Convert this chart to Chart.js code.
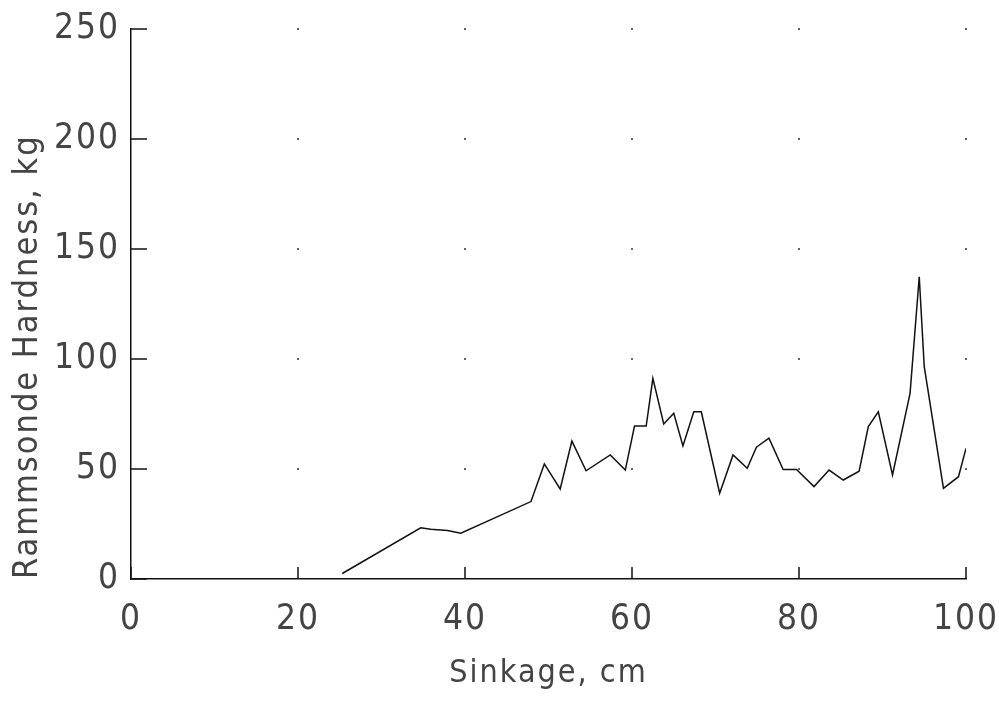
<!DOCTYPE html>
<html>
<head>
<meta charset="utf-8">
<script src="https://cdn.jsdelivr.net/npm/chart.js@4/dist/chart.umd.min.js"></script>
<style>
  html, body { margin: 0; padding: 0; background: #fff; }
  #wrap { width: 999px; height: 709px; }
</style>
</head>
<body>
<div id="wrap"><canvas id="chart-canvas" width="999" height="709"></canvas></div>
<script>
// Rammsonde probe profile: hardness against sinkage depth
const sinkage = [25.3, 34.7, 35.9, 37.9, 39.5, 47.9, 49.5, 51.4, 52.8, 54.5, 57.4, 59.2,
  60.3, 61.7, 62.5, 63.8, 65.0, 66.1, 67.4, 68.3, 70.5, 72.1, 73.8, 74.9, 76.4, 78.1,
  79.7, 81.8, 83.6, 85.3, 87.2, 88.3, 89.5, 91.2, 93.3, 94.4, 95.0, 97.3, 99.1, 100];
const hardness = [2.5, 23.3, 22.6, 22.0, 20.8, 35.2, 52.3, 40.9, 62.7, 49.2, 56.4, 49.5,
  69.5, 69.5, 91.2, 70.5, 75.3, 60.5, 76.0, 76.0, 39.0, 56.4, 50.3, 59.9, 64.0, 49.8,
  49.8, 42.0, 49.5, 45.0, 49.0, 69.3, 76.0, 47.3, 84.4, 137.4, 96.5, 41.2, 46.5, 59.4];

const xTicks = [0, 20, 40, 60, 80, 100];
const yTicks = [0, 50, 100, 150, 200, 250];

const FONT = "'DejaVu Sans Condensed', 'DejaVu Sans', sans-serif";
const INK = '#444';

// spaced-out lettering, set before measuring and before painting
const spacing = {
  id: 'spacing',
  beforeUpdate(chart) { chart.ctx.letterSpacing = '2px'; },
  beforeDraw(chart) { chart.ctx.letterSpacing = '2px'; }
};

// short inward tick marks and dotted grid intersections
const innerTicks = {
  id: 'innerTicks',
  afterDraw(chart) {
    const { ctx, scales: { x, y } } = chart;
    ctx.save();
    ctx.strokeStyle = '#111';
    ctx.lineWidth = 1.5;
    xTicks.forEach(v => {
      const px = x.getPixelForValue(v);
      ctx.beginPath();
      ctx.moveTo(px, y.bottom);
      ctx.lineTo(px, y.bottom - 12);
      ctx.stroke();
    });
    yTicks.forEach(v => {
      const py = y.getPixelForValue(v);
      ctx.beginPath();
      ctx.moveTo(x.left, py);
      ctx.lineTo(x.left + 16, py);
      ctx.stroke();
    });
    ctx.fillStyle = '#666';
    xTicks.slice(1).forEach(v => {
      yTicks.slice(1).forEach(w => {
        ctx.fillRect(x.getPixelForValue(v) - 1, y.getPixelForValue(w) - 1, 2, 2);
      });
    });
    ctx.restore();
  }
};

new Chart(document.getElementById('chart-canvas'), {
  type: 'line',
  plugins: [spacing, innerTicks],
  data: {
    datasets: [{
      data: sinkage.map((s, i) => ({ x: s, y: hardness[i] })),
      borderColor: '#111',
      borderWidth: 1.5,
      pointRadius: 0,
      tension: 0,
      fill: false
    }]
  },
  options: {
    responsive: false,
    animation: false,
    layout: { padding: { top: 29, right: 33, left: 0, bottom: 0 } },
    plugins: { legend: { display: false }, tooltip: { enabled: false } },
    scales: {
      x: {
        type: 'linear',
        min: 0,
        max: 100,
        afterBuildTicks: axis => { axis.ticks = xTicks.map(v => ({ value: v })); },
        afterFit: axis => {
          axis.height = 130;
          axis.paddingLeft = 0;
          axis.paddingRight = 0;
        },
        grid: { display: false },
        border: { display: true, color: '#111', width: 1.5 },
        ticks: { color: INK, padding: 12, maxRotation: 0, font: { family: FONT, size: 35 } },
        title: {
          display: true,
          text: 'Sinkage, cm',
          color: INK,
          padding: { top: 0, bottom: 16 },
          font: { family: FONT, size: 32 }
        }
      },
      y: {
        type: 'linear',
        min: 0,
        max: 250,
        afterBuildTicks: axis => { axis.ticks = yTicks.map(v => ({ value: v })); },
        afterFit: axis => {
          axis.width = 131;
          axis.paddingTop = 0;
          axis.paddingBottom = 0;
        },
        grid: { display: false },
        border: { display: true, color: '#111', width: 1.5 },
        ticks: { color: INK, padding: 3, font: { family: FONT, size: 35 } },
        title: {
          display: true,
          text: 'Rammsonde Hardness, kg',
          align: 'start',
          color: INK,
          padding: { top: 8, bottom: 0 },
          font: { family: FONT, size: 34 }
        }
      }
    }
  }
});
</script>
</body>
</html>
